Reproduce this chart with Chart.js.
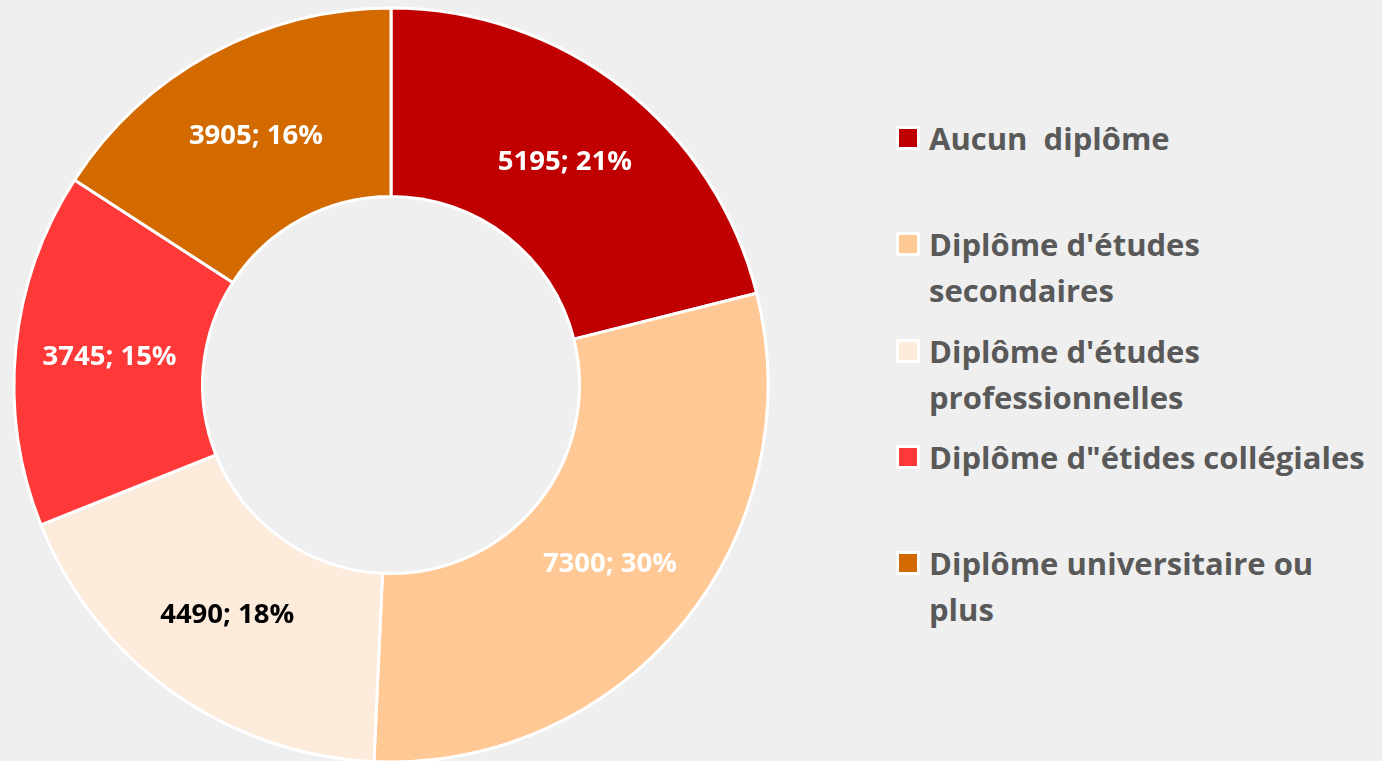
<!DOCTYPE html>
<html><head><meta charset="utf-8">
<script src="https://cdn.jsdelivr.net/npm/chart.js@4/dist/chart.umd.min.js"></script>
<style>
html,body{margin:0;padding:0;width:1382px;height:761px;overflow:hidden;background:#efefef;font-family:"Open Sans",sans-serif;}
#wrap{position:absolute;left:0;top:0;width:782px;height:770px;}
.item{position:absolute;left:929px;white-space:pre;font-weight:700;font-size:31px;line-height:46px;color:#595959;}
.box{position:absolute;left:-33px;top:11px;width:18px;height:18px;border:3px solid #fff;}
</style></head>
<body>
<div id="wrap"><canvas id="c"></canvas></div>
<div id="legend"></div>
<script>
const categories = [["Aucun  diplôme"], ["Diplôme d'études", "secondaires"], ["Diplôme d'études", "professionnelles"], ["Diplôme d\"étides collégiales"], ["Diplôme universitaire ou", "plus"]];
const counts = [5195, 7300, 4490, 3745, 3905];
const percents = [21, 30, 18, 15, 16];

const sliceColors = ["#C00000", "#FFC894", "#FDEBDC", "#FF3838", "#D26A00"];
const labelColors = ["#ffffff", "#ffffff", "#000000", "#ffffff", "#ffffff"];
const legendTops = [115, 221, 328, 434, 540];

const legend = document.getElementById('legend');
categories.forEach((lines, i) => {
  const d = document.createElement('div');
  d.className = 'item';
  d.style.top = legendTops[i] + 'px';
  const b = document.createElement('span');
  b.className = 'box';
  b.style.background = sliceColors[i];
  d.appendChild(b);
  d.appendChild(document.createTextNode(lines.join('\n')));
  legend.appendChild(d);
});

const labelPlugin = {
  id: 'sliceLabels',
  afterDatasetsDraw(chart) {
    const ctx = chart.ctx;
    const meta = chart.getDatasetMeta(0);
    ctx.save();
    ctx.font = 'bold 27.5px "Open Sans"';
    ctx.textAlign = 'center';
    ctx.textBaseline = 'middle';
    meta.data.forEach((arc, i) => {
      const p = arc.tooltipPosition();
      ctx.fillStyle = labelColors[i];
      ctx.fillText(counts[i] + '; ' + percents[i] + '%', p.x, p.y);
    });
    ctx.restore();
  }
};

new Chart(document.getElementById('c'), {
  type: 'doughnut',
  data: {
    labels: categories.map(l => l.join(' ')),
    datasets: [{
      data: counts,
      backgroundColor: sliceColors,
      borderColor: '#ffffff',
      borderWidth: 3,
      hoverOffset: 0
    }]
  },
  options: {
    responsive: true,
    maintainAspectRatio: false,
    animation: false,
    events: [],
    radius: 377,
    cutout: '50%',
    layout: { padding: 0 },
    plugins: { legend: { display: false }, tooltip: { enabled: false } }
  },
  plugins: [labelPlugin]
});
</script>
</body></html>
